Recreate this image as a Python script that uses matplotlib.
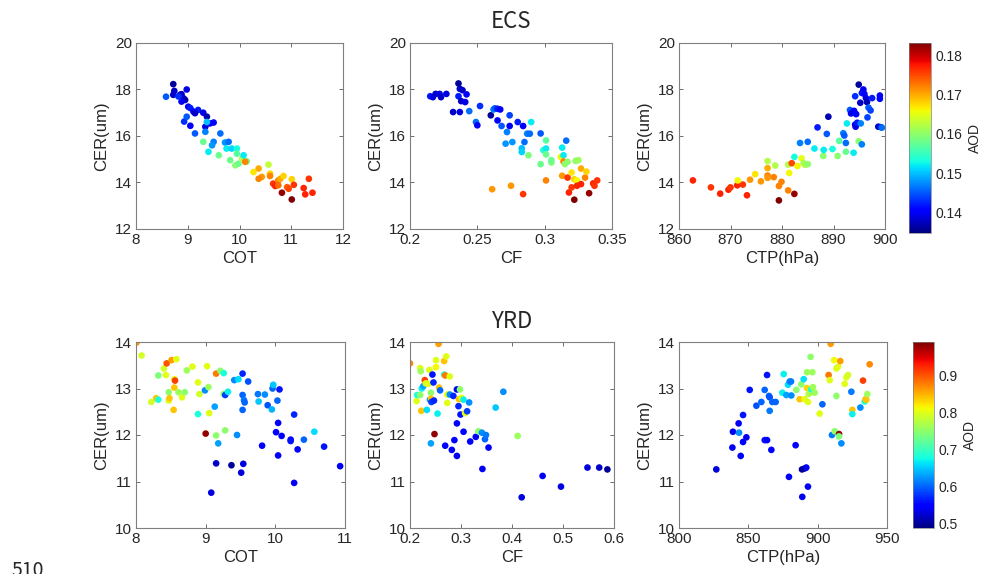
import numpy as np
import matplotlib
matplotlib.use('Agg')
import matplotlib.pyplot as plt
from matplotlib import ticker

# ---- ECS data ----
ecs_cot_x = [8.58, 8.72, 8.74, 8.72, 8.85, 8.88, 8.98, 8.92, 8.95, 8.88, 8.82, 9.01, 9.05, 9.11, 9.20, 9.14,
             9.30, 9.37, 8.93, 9.05, 8.98, 9.34, 9.43, 9.50, 9.34, 9.14, 9.37, 9.50, 9.63, 9.47, 9.72, 9.79,
             9.75, 9.85, 9.95, 9.30, 9.60, 9.40, 9.95, 9.82, 9.92, 9.98, 10.05, 10.08, 10.14, 10.11, 10.27,
             10.37, 10.43, 10.37, 10.56, 10.59, 10.59, 10.65, 10.69, 10.75, 10.79, 10.85, 10.75, 10.82, 10.92,
             10.95, 11.01, 11.05, 11.01, 11.24, 11.34, 11.27, 11.41]
ecs_cot_y = [17.69, 18.23, 17.94, 17.77, 17.77, 17.80, 18.00, 17.62, 17.55, 17.48, 17.70, 17.26, 17.20, 17.05,
             17.12, 16.98, 17.00, 16.83, 16.62, 16.44, 16.83, 16.40, 16.54, 16.58, 16.18, 16.11, 16.60, 15.75,
             16.11, 15.60, 15.72, 15.75, 15.46, 15.46, 15.46, 15.75, 15.17, 15.32, 15.24, 14.96, 14.74, 14.81,
             15.03, 15.17, 14.91, 14.89, 14.45, 14.60, 14.24, 14.16, 14.77, 14.38, 14.28, 13.95, 13.85, 14.09,
             14.16, 14.28, 13.88, 13.56, 13.80, 13.73, 14.14, 13.90, 13.27, 13.76, 14.16, 13.49, 13.56]
ecs_cot_c = [0.145, 0.136, 0.138, 0.138, 0.139, 0.138, 0.139, 0.138, 0.137, 0.140, 0.143, 0.140, 0.142, 0.140,
             0.142, 0.138, 0.139, 0.137, 0.143, 0.140, 0.145, 0.139, 0.140, 0.141, 0.147, 0.145, 0.150, 0.147,
             0.146, 0.148, 0.148, 0.146, 0.152, 0.151, 0.153, 0.158, 0.158, 0.152, 0.157, 0.158, 0.160, 0.158,
             0.162, 0.152, 0.158, 0.172, 0.167, 0.170, 0.171, 0.172, 0.163, 0.168, 0.172, 0.176, 0.177, 0.172,
             0.170, 0.168, 0.173, 0.182, 0.174, 0.175, 0.168, 0.176, 0.183, 0.177, 0.176, 0.177, 0.177]

ecs_cf_x = [0.215, 0.217, 0.219, 0.222, 0.223, 0.227, 0.236, 0.237, 0.239, 0.236, 0.242, 0.238, 0.241, 0.232,
            0.237, 0.244, 0.252, 0.249, 0.250, 0.260, 0.262, 0.263, 0.265, 0.267, 0.265, 0.268, 0.272, 0.274,
            0.274, 0.271, 0.276, 0.280, 0.284, 0.285, 0.283, 0.283, 0.287, 0.289, 0.290, 0.288, 0.297, 0.297,
            0.299, 0.301, 0.301, 0.301, 0.305, 0.305, 0.301, 0.261, 0.275, 0.284, 0.312, 0.313, 0.314, 0.316,
            0.314, 0.315, 0.317, 0.313, 0.317, 0.320, 0.322, 0.324, 0.323, 0.325, 0.327, 0.318, 0.320, 0.324,
            0.327, 0.322, 0.330, 0.331, 0.333, 0.336, 0.337, 0.339]
ecs_cf_y = [17.71, 17.67, 17.81, 17.81, 17.67, 17.81, 18.26, 18.03, 17.97, 17.71, 17.79, 17.50, 17.46, 17.03,
            17.03, 17.07, 17.29, 16.60, 16.46, 16.89, 17.14, 17.19, 17.17, 17.14, 16.67, 16.43, 16.17, 16.89,
            16.43, 15.67, 15.74, 16.60, 16.43, 15.74, 15.47, 15.31, 16.10, 16.10, 16.60, 15.17, 16.11, 14.79,
            15.39, 15.81, 15.46, 15.21, 14.86, 14.96, 14.09, 13.71, 13.86, 13.50, 15.10, 15.50, 15.17, 15.80,
            14.90, 14.79, 14.89, 14.29, 14.21, 14.43, 14.14, 14.09, 14.93, 14.96, 14.60, 13.57, 13.79, 13.86,
            13.93, 13.26, 14.21, 14.47, 13.54, 13.96, 13.86, 14.09]
ecs_cf_c = [0.142, 0.139, 0.138, 0.139, 0.138, 0.139, 0.136, 0.138, 0.138, 0.142, 0.141, 0.138, 0.139, 0.138,
            0.139, 0.146, 0.143, 0.146, 0.140, 0.136, 0.147, 0.145, 0.142, 0.140, 0.141, 0.145, 0.147, 0.144,
            0.140, 0.148, 0.148, 0.142, 0.141, 0.146, 0.150, 0.151, 0.147, 0.146, 0.152, 0.159, 0.145, 0.158,
            0.154, 0.157, 0.152, 0.158, 0.159, 0.158, 0.172, 0.171, 0.171, 0.176, 0.166, 0.152, 0.152, 0.146,
            0.172, 0.160, 0.160, 0.171, 0.176, 0.167, 0.168, 0.166, 0.160, 0.161, 0.170, 0.177, 0.176, 0.177,
            0.177, 0.183, 0.172, 0.168, 0.182, 0.177, 0.176, 0.176]

ecs_ctp_x = [862.7, 866.2, 868.0, 869.6, 870.0, 871.3, 872.4, 871.4, 873.2, 873.8, 874.8, 875.9, 877.2, 877.2,
             877.2, 877.2, 878.4, 878.7, 879.4, 879.4, 879.9, 881.2, 881.4, 881.2, 881.9, 882.4, 882.4, 883.0,
             883.8, 884.2, 884.5, 885.0, 883.5, 885.0, 886.3, 886.9, 888.0, 888.1, 888.7, 889.0, 889.8, 890.8,
             891.1, 891.9, 892.1, 892.6, 892.4, 892.4, 893.2, 893.4, 893.7, 894.0, 893.9, 894.4, 894.2, 894.3,
             894.6, 894.9, 894.2, 894.9, 895.2, 895.3, 895.5, 895.5, 895.8, 896.0, 896.3, 896.5, 896.6, 896.8,
             897.2, 897.5, 899.0, 899.0, 898.7, 899.2, 899.4]
ecs_ctp_y = [14.09, 13.79, 13.52, 13.69, 13.79, 13.88, 13.91, 14.09, 13.45, 14.12, 14.36, 14.05, 14.62, 14.30,
             14.20, 14.92, 14.23, 14.73, 13.85, 13.23, 14.03, 13.66, 14.41, 14.77, 14.83, 13.51, 15.10, 14.71,
             15.04, 14.83, 14.76, 14.79, 15.70, 15.75, 15.46, 16.37, 15.14, 15.40, 16.09, 16.83, 15.44, 15.14,
             15.79, 16.12, 16.02, 16.54, 15.70, 15.32, 17.12, 16.97, 17.01, 17.08, 15.28, 16.94, 16.49, 16.40,
             16.57, 18.21, 17.71, 15.77, 17.43, 16.54, 17.85, 15.64, 18.00, 17.81, 17.63, 17.46, 16.80, 17.22,
             17.10, 17.63, 17.74, 17.60, 16.40, 16.38, 16.36]
ecs_ctp_c = [0.177, 0.176, 0.177, 0.177, 0.176, 0.177, 0.176, 0.166, 0.177, 0.171, 0.167, 0.171, 0.170, 0.172,
             0.171, 0.162, 0.172, 0.162, 0.172, 0.183, 0.172, 0.172, 0.166, 0.162, 0.175, 0.182, 0.153, 0.166,
             0.165, 0.161, 0.162, 0.160, 0.147, 0.146, 0.152, 0.142, 0.160, 0.152, 0.145, 0.137, 0.153, 0.160,
             0.157, 0.147, 0.145, 0.152, 0.146, 0.158, 0.145, 0.140, 0.139, 0.140, 0.152, 0.141, 0.140, 0.139,
             0.142, 0.136, 0.143, 0.160, 0.138, 0.147, 0.142, 0.147, 0.140, 0.141, 0.139, 0.137, 0.144, 0.145,
             0.144, 0.142, 0.140, 0.141, 0.138, 0.142, 0.146]

# ---- YRD data ----
yrd_cot_x = [8.01, 8.08, 8.22, 8.29, 8.32, 8.32, 8.40, 8.43, 8.44, 8.47, 8.47, 8.48, 8.51, 8.54, 8.55, 8.56,
             8.55, 8.58, 8.61, 8.66, 8.70, 8.73, 8.81, 8.89, 8.89, 8.91, 8.99, 9.02, 9.04, 9.05, 9.00, 9.15,
             9.13, 9.15, 9.21, 9.26, 9.26, 9.28, 9.28, 9.32, 9.15, 9.08, 9.37, 9.41, 9.47, 9.45, 9.18, 9.51,
             9.53, 9.53, 9.53, 9.54, 9.55, 9.56, 9.61, 9.75, 9.76, 9.81, 9.85, 9.89, 9.95, 9.96, 9.97, 10.01,
             10.04, 10.04, 10.03, 10.06, 10.09, 10.22, 10.22, 10.27, 10.27, 10.32, 10.41, 10.56, 10.70, 10.93]
yrd_cot_y = [13.99, 13.71, 12.71, 12.79, 12.76, 13.28, 13.43, 13.29, 13.54, 12.92, 12.74, 12.79, 13.61, 12.54,
             13.20, 13.17, 13.02, 13.63, 12.92, 12.81, 12.92, 13.39, 13.47, 12.45, 13.13, 12.88, 12.96, 13.48,
             13.03, 12.47, 12.03, 11.99, 12.61, 13.32, 13.38, 13.33, 12.88, 12.10, 12.86, 12.93, 11.39, 10.76,
             11.35, 13.18, 13.20, 12.00, 11.82, 11.19, 13.32, 12.86, 12.54, 11.38, 12.75, 12.70, 13.15, 12.88,
             12.72, 11.77, 12.87, 12.64, 12.55, 13.00, 13.08, 12.06, 12.26, 11.56, 12.74, 12.98, 11.98, 11.90,
             11.87, 12.44, 10.97, 11.69, 11.90, 12.07, 11.75, 11.33]
yrd_cot_c = [0.86, 0.79, 0.79, 0.84, 0.68, 0.74, 0.79, 0.80, 0.90, 0.75, 0.80, 0.84, 0.86, 0.84, 0.80, 0.91,
             0.84, 0.80, 0.76, 0.80, 0.75, 0.76, 0.80, 0.68, 0.80, 0.79, 0.62, 0.80, 0.76, 0.80, 0.98, 0.75,
             0.63, 0.88, 0.75, 0.68, 0.75, 0.75, 0.58, 0.67, 0.52, 0.53, 0.50, 0.62, 0.66, 0.62, 0.63, 0.53,
             0.57, 0.60, 0.60, 0.53, 0.61, 0.60, 0.59, 0.61, 0.65, 0.55, 0.62, 0.59, 0.64, 0.60, 0.65, 0.55,
             0.55, 0.54, 0.60, 0.56, 0.55, 0.55, 0.56, 0.57, 0.54, 0.55, 0.60, 0.66, 0.56, 0.54]

yrd_cf_x = [0.200, 0.213, 0.214, 0.220, 0.221, 0.220, 0.223, 0.222, 0.226, 0.229, 0.231, 0.233, 0.236, 0.238,
            0.239, 0.241, 0.241, 0.241, 0.242, 0.244, 0.246, 0.247, 0.248, 0.251, 0.251, 0.254, 0.256, 0.257,
            0.259, 0.267, 0.269, 0.267, 0.271, 0.269, 0.273, 0.273, 0.278, 0.278, 0.282, 0.285, 0.287, 0.292,
            0.292, 0.292, 0.295, 0.296, 0.298, 0.299, 0.301, 0.305, 0.305, 0.308, 0.312, 0.316, 0.318, 0.329,
            0.334, 0.341, 0.342, 0.347, 0.349, 0.354, 0.368, 0.383, 0.411, 0.419, 0.460, 0.496, 0.548, 0.571,
            0.587]
yrd_cf_y = [13.54, 12.73, 12.86, 13.44, 13.37, 12.86, 13.00, 12.52, 13.05, 13.18, 13.11, 12.54, 13.10, 13.40,
            12.76, 12.91, 12.78, 11.82, 12.71, 13.30, 13.13, 12.74, 12.02, 13.61, 13.46, 12.46, 13.96, 13.02,
            12.96, 13.30, 13.28, 13.59, 13.69, 11.77, 12.69, 12.87, 13.26, 12.87, 11.68, 12.84, 11.89, 12.98,
            12.25, 11.55, 12.62, 12.77, 12.98, 12.44, 12.80, 12.76, 12.07, 12.47, 12.51, 12.70, 11.86, 11.96,
            12.08, 12.05, 11.27, 11.91, 12.00, 11.73, 12.59, 12.93, 11.98, 10.66, 11.12, 10.89, 11.30, 11.30,
            11.26]
yrd_cf_c = [0.87, 0.80, 0.68, 0.80, 0.76, 0.75, 0.67, 0.84, 0.63, 0.91, 0.80, 0.66, 0.80, 0.80, 0.62, 0.75,
            0.84, 0.63, 0.58, 0.56, 0.57, 0.57, 0.98, 0.80, 0.81, 0.67, 0.86, 0.84, 0.60, 0.68, 0.88, 0.84,
            0.80, 0.55, 0.80, 0.80, 0.80, 0.62, 0.55, 0.57, 0.55, 0.54, 0.55, 0.54, 0.57, 0.84, 0.75, 0.56,
            0.80, 0.67, 0.55, 0.80, 0.58, 0.62, 0.55, 0.55, 0.75, 0.62, 0.54, 0.60, 0.61, 0.55, 0.65, 0.62,
            0.76, 0.53, 0.54, 0.53, 0.53, 0.52, 0.50]

yrd_ctp_x = [826.9, 838.5, 838.9, 843.0, 843.3, 844.5, 846.2, 846.2, 848.6, 851.0, 855.8, 859.4, 861.8, 861.8,
             863.5, 863.5, 864.9, 865.4, 865.4, 866.6, 867.3, 869.7, 874.5, 875.5, 877.4, 878.6, 879.8, 880.8,
             881.0, 879.3, 884.1, 884.6, 887.0, 888.2, 888.7, 888.9, 889.9, 890.6, 891.8, 890.6, 892.3, 892.3,
             893.5, 893.0, 893.0, 894.9, 895.4, 896.2, 896.6, 897.8, 901.4, 903.4, 907.9, 908.7, 909.4, 910.3,
             911.8, 912.3, 913.5, 913.5, 914.7, 915.4, 915.4, 916.3, 917.1, 919.5, 920.7, 921.9, 924.3, 925.0,
             925.0, 930.8, 932.7, 933.9, 934.6, 935.1, 935.8, 937.5]
yrd_ctp_y = [11.26, 11.73, 12.07, 12.25, 12.05, 11.55, 11.85, 12.43, 11.95, 12.97, 12.63, 12.71, 12.97, 11.89,
             11.89, 13.29, 12.84, 12.81, 12.52, 11.68, 12.71, 12.71, 12.91, 13.31, 12.86, 13.08, 13.15, 13.15,
             12.85, 11.10, 11.78, 12.97, 12.77, 13.09, 11.26, 10.67, 13.20, 11.28, 11.30, 12.77, 13.01, 13.35,
             12.88, 12.71, 10.89, 13.68, 12.98, 13.35, 13.03, 12.91, 12.46, 12.66, 13.29, 13.18, 13.96, 12.00,
             13.61, 12.08, 12.84, 13.43, 13.47, 12.02, 11.97, 13.59, 11.82, 13.10, 13.24, 13.29, 12.93, 12.54,
             12.45, 12.59, 13.17, 12.72, 12.77, 12.76, 12.88, 13.52]
yrd_ctp_c = [0.53, 0.54, 0.54, 0.54, 0.62, 0.54, 0.55, 0.56, 0.54, 0.56, 0.59, 0.60, 0.60, 0.56, 0.55, 0.56,
             0.60, 0.59, 0.61, 0.55, 0.60, 0.60, 0.67, 0.67, 0.63, 0.66, 0.62, 0.61, 0.62, 0.54, 0.55, 0.75,
             0.84, 0.75, 0.50, 0.54, 0.66, 0.50, 0.54, 0.80, 0.83, 0.76, 0.77, 0.80, 0.54, 0.75, 0.68, 0.76,
             0.76, 0.76, 0.80, 0.60, 0.88, 0.80, 0.86, 0.61, 0.81, 0.75, 0.75, 0.80, 0.80, 0.98, 0.74, 0.86,
             0.62, 0.80, 0.80, 0.79, 0.61, 0.84, 0.67, 0.62, 0.91, 0.68, 0.85, 0.84, 0.76, 0.87]

ecs_range = (0.1348, 0.1831)
yrd_range = (0.488, 0.989)

W, H = 984, 574
TXT = '#262626'
plt.rcParams['font.family'] = ['Liberation Sans', 'DejaVu Sans']


def box(l, r, t, b):
    return [l / W, 1 - b / H, (r - l) / W, (b - t) / H]


def panel(ax_pos, x, y, c, rng, xlim, xticks, ylim, yticks, xlabel):
    ax = fig.add_axes(box(*ax_pos))
    sc = ax.scatter(x, y, c=c, cmap='jet', vmin=rng[0], vmax=rng[1], s=23, linewidths=0)
    ax.set_xlim(xlim)
    ax.set_ylim(ylim)
    ax.set_xticks(xticks)
    ax.set_yticks(yticks)
    ax.xaxis.set_major_formatter(ticker.FormatStrFormatter('%g'))
    ax.yaxis.set_major_formatter(ticker.FormatStrFormatter('%g'))
    ax.tick_params(direction='in', length=3, width=0.6, top=True, right=True,
                   labelsize=11, colors='#555555', labelcolor=TXT, pad=3)
    for sp in ax.spines.values():
        sp.set_color('#7f7f7f')
        sp.set_linewidth(0.8)
    ax.set_xlabel(xlabel, fontsize=12, color=TXT, labelpad=3)
    ax.set_ylabel('CER(um)', fontsize=12, color=TXT, labelpad=4)
    return sc


def cbar(sc, cb_pos, ticks):
    cax = fig.add_axes(box(*cb_pos))
    cb = fig.colorbar(sc, cax=cax, ticks=ticks)
    cb.ax.yaxis.set_major_formatter(ticker.FormatStrFormatter('%g'))
    cb.ax.tick_params(length=0, labelsize=10, labelcolor=TXT, pad=3)
    cb.outline.set_linewidth(0.5)
    cb.outline.set_edgecolor('#808080')
    cb.set_label('AOD', fontsize=10, color=TXT, labelpad=4)


fig = plt.figure(figsize=(W / 100, H / 100), dpi=100)

# top row: ECS
panel((136, 343, 43, 229), ecs_cot_x, ecs_cot_y, ecs_cot_c, ecs_range,
      (8, 12), [8, 9, 10, 11, 12], (12, 20), [12, 14, 16, 18, 20], 'COT')
panel((410, 612, 43, 229), ecs_cf_x, ecs_cf_y, ecs_cf_c, ecs_range,
      (0.2, 0.35), [0.2, 0.25, 0.3, 0.35], (12, 20), [12, 14, 16, 18, 20], 'CF')
sc = panel((679, 885, 43, 229), ecs_ctp_x, ecs_ctp_y, ecs_ctp_c, ecs_range,
           (860, 900), [860, 870, 880, 890, 900], (12, 20), [12, 14, 16, 18, 20], 'CTP(hPa)')
cbar(sc, (909, 931, 43, 233), [0.14, 0.15, 0.16, 0.17, 0.18])

# bottom row: YRD
panel((136, 345, 342, 528), yrd_cot_x, yrd_cot_y, yrd_cot_c, yrd_range,
      (8, 11), [8, 9, 10, 11], (10, 14), [10, 11, 12, 13, 14], 'COT')
panel((410, 614, 342, 528), yrd_cf_x, yrd_cf_y, yrd_cf_c, yrd_range,
      (0.2, 0.6), [0.2, 0.3, 0.4, 0.5, 0.6], (10, 14), [10, 11, 12, 13, 14], 'CF')
sc = panel((679, 887, 342, 528), yrd_ctp_x, yrd_ctp_y, yrd_ctp_c, yrd_range,
           (800, 950), [800, 850, 900, 950], (10, 14), [10, 11, 12, 13, 14], 'CTP(hPa)')
cbar(sc, (913, 934, 342, 528), [0.5, 0.6, 0.7, 0.8, 0.9])

cjk = ['Noto Sans CJK SC', 'DejaVu Sans']
fig.text(511 / W, 1 - 22 / H, 'ECS', ha='center', va='center', fontsize=16, color=TXT, family=cjk)
fig.text(512 / W, 1 - 322 / H, 'YRD', ha='center', va='center', fontsize=16, color=TXT, family=cjk)
fig.text(11 / W, 1 - 560 / H, '510', ha='left', va='top', fontsize=14, color=TXT, family=cjk)

fig.savefig('out.png', dpi=100)
